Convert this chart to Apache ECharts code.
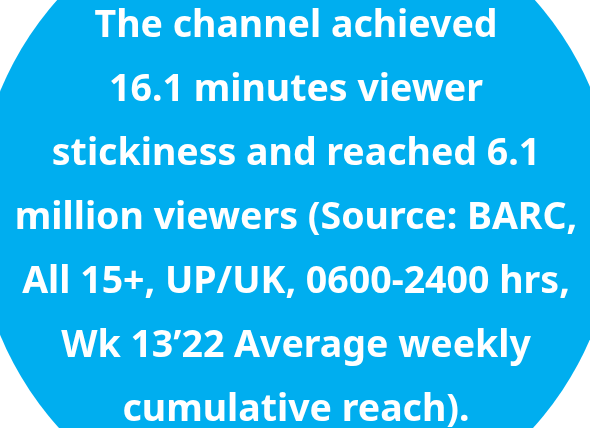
<!DOCTYPE html>
<html>
<head>
<meta charset="utf-8">
<style>
  html, body { margin: 0; padding: 0; background: #fff; }
  #chart { width: 590px; height: 428px; }
</style>
<script src="https://cdn.jsdelivr.net/npm/echarts@6/dist/echarts.min.js"></script>
</head>
<body>
<div id="chart"></div>
<script>
// text lines of the callout
var lines = [
    'The channel achieved',
    '16.1 minutes viewer',
    'stickiness and reached 6.1',
    'million viewers (Source: BARC,',
    'All 15+, UP/UK, 0600-2400 hrs,',
    'Wk 13\u201922 Average weekly',
    'cumulative reach).'
];
// one full disc
var discNames = ['reach'];
var discValues = [1];

var option = {
    animation: false,
    title: {
        text: lines.join('\n'),
        left: 296,
        top: -6,
        padding: 0,
        textAlign: 'center',
        textStyle: {
            color: '#fff',
            fontFamily: 'Noto Sans',
            fontWeight: 'bold',
            fontSize: 37.5,
            lineHeight: 64
        }
    },
    series: [
        {
            type: 'pie',
            silent: true,
            center: [296, 213],
            radius: 320,
            label: { show: false },
            labelLine: { show: false },
            itemStyle: { color: '#00AEEF' },
            data: discNames.map(function (n, i) { return { name: n, value: discValues[i] }; })
        }
    ]
};

var myChart = echarts.init(document.getElementById('chart'));
myChart.setOption(option);
</script>
</body>
</html>
